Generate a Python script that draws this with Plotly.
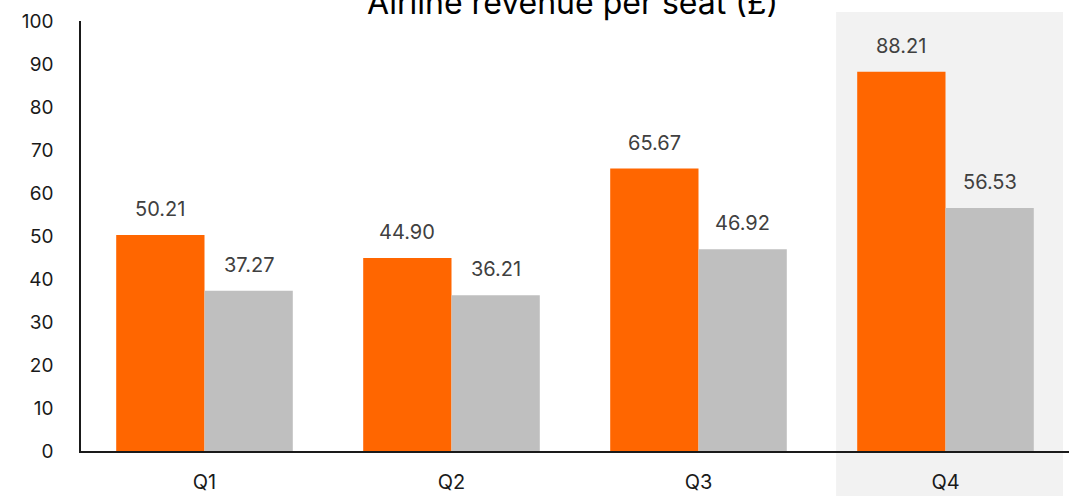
import plotly.graph_objects as go

# Quarterly airline revenue per seat (£)
quarters = ["Q1", "Q2", "Q3", "Q4"]
series_a = [50.21, 44.90, 65.67, 88.21]
series_b = [37.27, 36.21, 46.92, 56.53]
y_ticks = [0, 10, 20, 30, 40, 50, 60, 70, 80, 90, 100]

ORANGE = "#ff6600"
GREY = "#bfbfbf"
FONT = "Inter"

fig = go.Figure()
fig.add_bar(x=quarters, y=series_a, marker=dict(color=ORANGE, line=dict(width=0)), name="A")
fig.add_bar(x=quarters, y=series_b, marker=dict(color=GREY, line=dict(width=0)), name="B")

# value labels above each bar (bar half-width offset in pixels)
half = 44.2
for vals, shift in ((series_a, -half), (series_b, half)):
    for q, v in zip(quarters, vals):
        fig.add_annotation(
            x=q, y=v, text=f"{v:.2f}", showarrow=False,
            xshift=shift, yshift=26, yanchor="middle",
            font=dict(family=FONT, size=20, color="#404040"),
        )

# highlight band behind the latest quarter, running past the axes top and bottom
fig.add_shape(
    type="rect", xref="x", yref="paper",
    x0=2.557, x1=3.476, y0=-0.11, y1=1.021,
    fillcolor="#f2f2f2", line=dict(width=0), layer="below",
)

fig.add_annotation(
    text="Airline revenue per seat (£)", xref="paper", yref="paper",
    x=0.497, y=1.044, showarrow=False, yanchor="middle",
    font=dict(family=FONT, size=32, color="#000000"),
)

fig.update_layout(
    width=1078, height=496,
    margin=dict(l=81, r=9, t=21, b=45),
    paper_bgcolor="white", plot_bgcolor="rgba(0,0,0,0)",
    barmode="group", bargap=0.285, bargroupgap=0,
    showlegend=False,
    font=dict(family=FONT, color="#1a1a1a"),
)
fig.update_xaxes(
    showline=True, linecolor="#1a1a1a", linewidth=1.5, automargin=False,
    showgrid=False, ticks="", tickfont=dict(size=20, color="#1a1a1a"),
    ticklabelstandoff=12,
)
fig.update_yaxes(
    range=[0, 100], tickvals=y_ticks, showline=True, linecolor="#1a1a1a",
    linewidth=1.5, showgrid=False, zeroline=False, ticks="", automargin=False,
    tickfont=dict(size=19, color="#1a1a1a"), ticklabelstandoff=22,
)

fig.write_html("out.html")
